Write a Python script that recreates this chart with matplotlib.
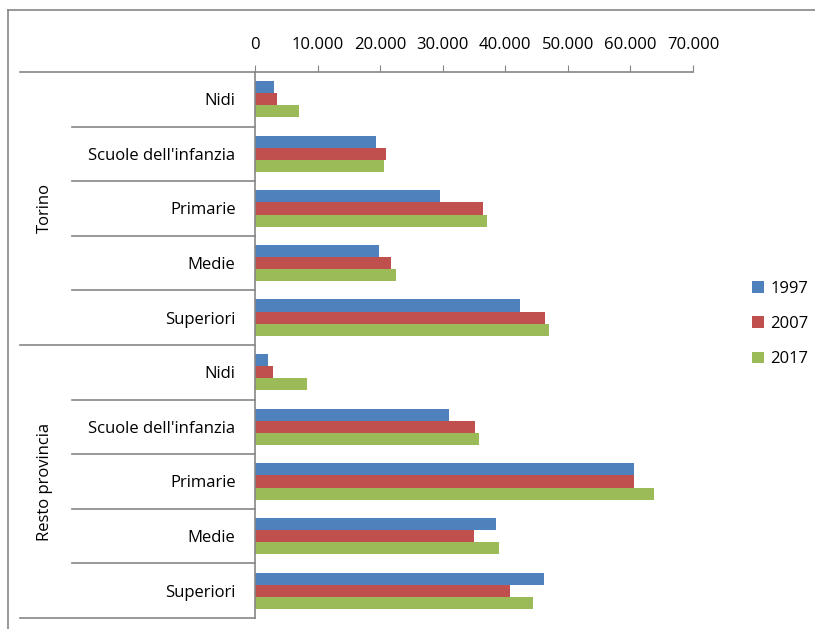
import matplotlib
matplotlib.use("Agg")
import matplotlib.pyplot as plt
import matplotlib.transforms as mtransforms
from matplotlib.lines import Line2D
from matplotlib.patches import Patch
from matplotlib.ticker import FuncFormatter

plt.rcParams['font.family'] = ['Open Sans', 'DejaVu Sans']

# iscritti per livello scolastico, Torino e resto della provincia
gruppi = ["Torino", "Resto provincia"]
livelli = ["Nidi", "Scuole dell'infanzia", "Primarie", "Medie", "Superiori"]
anni = ["1997", "2007", "2017"]

torino_1997 = [3000, 19300, 29500, 19800, 42400]
torino_2007 = [3500, 20900, 36400, 21800, 46400]
torino_2017 = [7000, 20600, 37000, 22600, 47000]

resto_1997 = [2000, 31000, 60500, 38500, 46200]
resto_2007 = [2800, 35200, 60500, 35000, 40800]
resto_2017 = [8300, 35800, 63800, 39000, 44500]

serie = [torino_1997 + resto_1997,
         torino_2007 + resto_2007,
         torino_2017 + resto_2017]
colori = ["#4F81BD", "#C0504D", "#9BBB59"]
etichette = livelli + livelli

W, H = 815, 629
fig = plt.figure(figsize=(W / 100, H / 100), dpi=100)
ax = fig.add_axes([255 / W, 1 - 618 / H, (693 - 255) / W, (618 - 72) / H])

grigio = "#868686"
n = len(etichette)
h = 1 / 4.5
y = list(range(n))
for k, (vals, col) in enumerate(zip(serie, colori)):
    ax.barh([i + (k - 1) * h for i in y], vals, height=h, color=col, zorder=2)

ax.set_xlim(0, 70000)
ax.set_ylim(n - 0.5, -0.5)
ax.xaxis.tick_top()
ax.set_xticks(range(0, 70001, 10000))
ax.xaxis.set_major_formatter(FuncFormatter(lambda v, p: "0" if v == 0 else f"{int(v):,}".replace(",", ".")))
ax.tick_params(axis="x", direction="out", length=5, color=grigio, pad=9, labelsize=12, labelcolor="#000000")
ax.set_yticks(y)
ax.set_yticklabels(etichette, fontsize=12)
ax.tick_params(axis="y", length=0, pad=14)

for s in ["right", "bottom"]:
    ax.spines[s].set_visible(False)
for s in ["top", "left"]:
    ax.spines[s].set_color(grigio)
    ax.spines[s].set_linewidth(1.2)

# linee di separazione tra categorie e gruppi
trans = mtransforms.blended_transform_factory(ax.transAxes, ax.transData)
x_gruppo = (20 - 255) / (693 - 255)
x_cat = (72 - 255) / (693 - 255)
for b in range(n + 1):
    pos = b - 0.5
    x0 = x_gruppo if b % 5 == 0 else x_cat
    ax.add_line(Line2D([x0, 0], [pos, pos], transform=trans, color=grigio,
                       lw=1.2, clip_on=False))

# nomi dei gruppi in verticale
for g, nome in enumerate(gruppi):
    ax.text(x_gruppo + (45 - 20) / (693 - 255), g * 5 + 2, nome, transform=trans,
            rotation=90, ha="center", va="center", fontsize=12)

# cornice esterna
fig.add_artist(Line2D([8 / W, 8 / W], [0, 1 - 10 / H], color=grigio, lw=1.2))
fig.add_artist(Line2D([8 / W, 1], [1 - 10 / H, 1 - 10 / H], color=grigio, lw=1.2))

handles = [Patch(facecolor=c, label=a) for c, a in zip(colori, anni)]
fig.legend(handles=handles, loc="center left", bbox_to_anchor=(752 / W, 1 - 324 / H),
           frameon=False, fontsize=12, handlelength=0.7, handleheight=0.7,
           handletextpad=0.4, labelspacing=1.15, borderpad=0, borderaxespad=0)

fig.savefig("out.png", dpi=100)
